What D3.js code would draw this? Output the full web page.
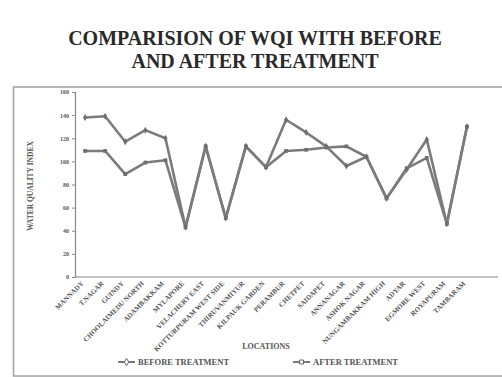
<!DOCTYPE html>
<html><head><meta charset="utf-8">
<script src="https://cdn.jsdelivr.net/npm/d3@7/dist/d3.min.js"></script>
<style>html,body{margin:0;padding:0;background:#fff}svg{display:block}</style>
</head><body><svg id="c" width="502" height="377"></svg>
<script>
const titleLines = ["COMPARISION OF WQI WITH BEFORE", "AND AFTER TREATMENT"];
const categories = ["MANNADY","T.NAGAR","GUINDY","CHOOLAIMEDU NORTH","ADAMBAKKAM","MYLAPORE","VELACHERY EAST","KOTTURPURAM WEST SIDE","THIRUVANMIYUR","KILPAUK GARDEN","PERAMBUR","CHETPET","SAIDAPET","ANNANAGAR","ASHOK NAGAR","NUNGAMBAKKAM HIGH","ADYAR","EGMORE WEST","ROYAPURAM","TAMBARAM"];
const beforeTreatment = [138,139,117,127,120,43,113,51,113,95,136,125,113,96,104,68,93,119,46,130];
const afterTreatment  = [109,109,89,99,101,43,113,51,113,95,109,110,112,113,104,68,94,103,46,130];
const yTicks = [0,20,40,60,80,100,120,140,160];
const seriesNames = ["BEFORE TREATMENT","AFTER TREATMENT"];
const yTitle = "WATER QUALITY INDEX";
const xTitle = "LOCATIONS";

const svg = d3.select("#c");
const grey = "#7b7b7b";
const font = "'Liberation Serif','DejaVu Serif',serif";

svg.append("rect").attr("width",502).attr("height",377).attr("fill","#fff");
// outer chart border
svg.append("rect").attr("x",13.5).attr("y",87).attr("width",520).attr("height",289)
  .attr("fill","none").attr("stroke","#a5a5a5").attr("stroke-width",1.6);

// title
svg.append("g").selectAll("text").data(titleLines).join("text")
  .attr("x",255).attr("y",(d,i)=>45+i*23).attr("text-anchor","middle")
  .attr("font-family",font).attr("font-weight","bold").attr("font-size",20)
  .attr("fill","#2a2a2a").text(d=>d);

const x = d3.scaleBand().domain(categories).range([75,477]);
const y = d3.scaleLinear().domain([0,160]).range([277,92]);
const cx = d => x(d)+x.bandwidth()/2;

// axes
const yAxis = svg.append("g").attr("transform","translate(75,0)")
  .call(d3.axisLeft(y).tickValues(yTicks).tickSize(3).tickPadding(3));
yAxis.select(".domain").attr("stroke","#888").attr("stroke-width",1.2);
yAxis.selectAll(".tick line").attr("stroke","#888");
yAxis.selectAll("text").attr("font-family",font).attr("font-weight","bold").attr("font-size",6).attr("fill","#555");

svg.append("line").attr("x1",75).attr("x2",498).attr("y1",277).attr("y2",277)
  .attr("stroke","#888").attr("stroke-width",1.2);

const xAxis = svg.append("g").attr("transform","translate(0,277)")
  .call(d3.axisBottom(x).tickSize(0).tickPadding(0));
xAxis.select(".domain").remove();
xAxis.selectAll("text").attr("font-family",font).attr("font-weight","bold").attr("font-size",7)
  .attr("fill","#555").attr("text-anchor","end").attr("dy",0)
  .attr("transform","translate(-1,7) rotate(-45)");

// axis titles
svg.append("text").attr("transform","translate(33,186) rotate(-90)").attr("text-anchor","middle")
  .attr("font-family",font).attr("font-weight","bold").attr("font-size",7.5).attr("fill","#555").text(yTitle);
svg.append("text").attr("x",266).attr("y",349).attr("text-anchor","middle")
  .attr("font-family",font).attr("font-weight","bold").attr("font-size",8).attr("fill","#555").text(xTitle);

// lines
const line = d3.line().x((d,i)=>cx(categories[i])).y(d=>y(d));
[afterTreatment, beforeTreatment].forEach(s=>{
  svg.append("path").datum(s).attr("d",line).attr("fill","none")
    .attr("stroke",grey).attr("stroke-width",2.6).attr("stroke-linejoin","round");
});
const sym = [d3.symbolDiamond, d3.symbolSquare];
[beforeTreatment, afterTreatment].forEach((s,k)=>{
  svg.append("g").selectAll("path").data(s).join("path")
    .attr("transform",(d,i)=>`translate(${cx(categories[i])},${y(d)})`)
    .attr("d",d3.symbol().type(sym[k]).size(14)).attr("fill","#6e6e6e");
});

// legend
const lg = svg.append("g");
[[118,seriesNames[0]],[293,seriesNames[1]]].forEach(([lx,name],k)=>{
  lg.append("line").attr("x1",lx).attr("x2",lx+17).attr("y1",362).attr("y2",362)
    .attr("stroke",grey).attr("stroke-width",2);
  lg.append("path").attr("transform",`translate(${lx+8.5},362)`)
    .attr("d",d3.symbol().type(sym[k]).size(16)).attr("fill","#fff").attr("stroke","#666").attr("stroke-width",1);
  lg.append("text").attr("x",lx+20).attr("y",365).attr("font-family",font).attr("font-weight","bold")
    .attr("font-size",8.5).attr("fill","#555").text(name);
});
</script></body></html>
